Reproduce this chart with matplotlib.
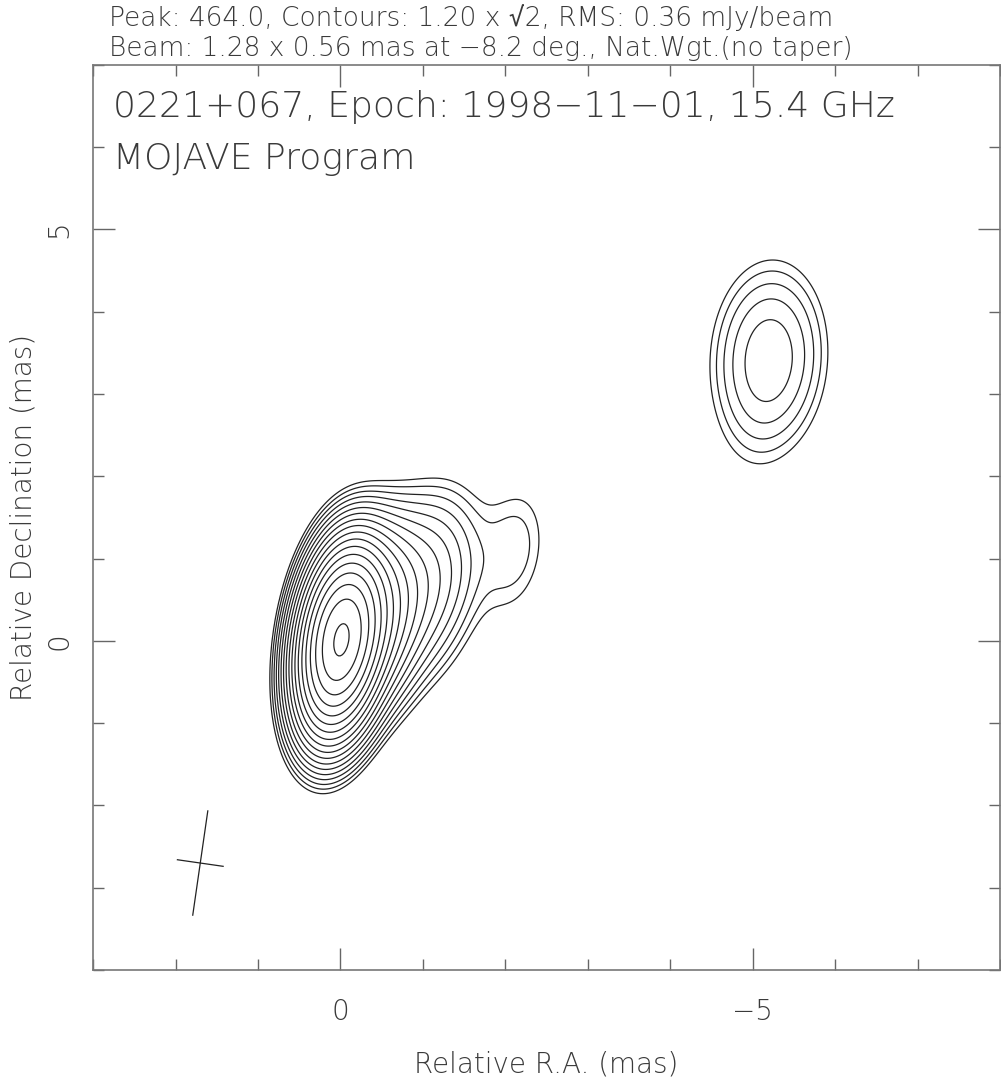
import numpy as np
import matplotlib
matplotlib.use("Agg")
import matplotlib.pyplot as plt

# source and map info
source = "0221+067"
epoch = "1998-11-01"
freq_ghz = 15.4
peak = 464.0
base_level = 1.20
rms = 0.36
beam_major = 1.28   # mas
beam_minor = 0.56   # mas
beam_pa = -8.2      # deg

# gaussian components: RA offset, Dec offset (mas), peak (mJy/beam),
# intrinsic FWHM major/minor (mas), position angle (deg)
comp_ra = [0.0, -0.40, -0.95, -1.30, -2.10, -5.20, -5.05]
comp_dec = [0.0, 0.30, 0.65, 1.05, 1.10, 3.45, 2.70]
comp_peak = [445.0, 45.0, 9.0, 1.8, 2.1, 6.0, 0.6]
comp_maj = [0.05, 0.40, 0.60, 0.50, 0.35, 0.90, 0.50]
comp_min = [0.05, 0.40, 0.60, 0.50, 0.35, 0.70, 0.50]
comp_pa = [0.0, 0.0, 0.0, 0.0, 0.0, 20.0, 0.0]

# beam cross position
beam_ra, beam_dec = 1.7, -2.7

F = 2.0 * np.sqrt(2.0 * np.log(2.0))


def gauss_cov(fmaj, fmin, pa_deg):
    pa = np.radians(pa_deg)
    u = np.array([np.sin(pa), np.cos(pa)])
    v = np.array([np.cos(pa), -np.sin(pa)])
    return (fmaj / F)**2 * np.outer(u, u) + (fmin / F)**2 * np.outer(v, v)


ra = np.linspace(3.0, -8.0, 551)
dec = np.linspace(-4.0, 7.0, 551)
RA, DEC = np.meshgrid(ra, dec)
img = np.zeros_like(RA)
bcov = gauss_cov(beam_major, beam_minor, beam_pa)
for x0, y0, p, a, b, t in zip(comp_ra, comp_dec, comp_peak, comp_maj, comp_min, comp_pa):
    ci = np.linalg.inv(bcov + gauss_cov(a, b, t))
    dx = RA - x0
    dy = DEC - y0
    q = ci[0, 0] * dx**2 + 2 * ci[0, 1] * dx * dy + ci[1, 1] * dy**2
    img += p * np.exp(-0.5 * q)

levels = base_level * np.sqrt(2.0) ** np.arange(0, 20)
levels = levels[levels < img.max()]

plt.rcParams['font.family'] = ['DejaVu Sans', 'DejaVu Sans Mono']
plt.rcParams['font.weight'] = 'light'
txt = dict(color='#3a3a3a', fontweight='light')
fig = plt.figure(figsize=(10.01, 10.79), dpi=100)
ax = fig.add_axes([0.093, 0.101, 0.906, 0.839])
ax.contour(RA, DEC, img, levels=levels, colors='#222222', linewidths=0.9)

# beam cross
pa = np.radians(beam_pa)
mx, my = np.sin(pa) * beam_major / 2, np.cos(pa) * beam_major / 2
nx, ny = np.cos(pa) * beam_minor / 2, -np.sin(pa) * beam_minor / 2
ax.plot([beam_ra - mx, beam_ra + mx], [beam_dec - my, beam_dec + my], color='#222222', lw=0.9)
ax.plot([beam_ra - nx, beam_ra + nx], [beam_dec - ny, beam_dec + ny], color='#222222', lw=0.9)

ax.set_xlim(3.0, -8.0)
ax.set_ylim(-4.0, 7.0)
ax.set_aspect('auto')
ax.set_xticks([0, -5])
ax.set_xticklabels(['0', '\u22125'], fontweight='light')
ax.set_yticks([0, 5])
ax.set_yticklabels(['0', '5'], rotation=90, va='center', fontweight='light')
ax.set_xticks(np.arange(-8, 4, 1), minor=True)
ax.set_yticks(np.arange(-4, 8, 1), minor=True)
ax.tick_params(which='both', direction='in', top=True, right=True, colors='#666666',
               labelcolor='#3a3a3a', labelsize=20, width=1)
ax.tick_params(which='major', length=16)
ax.tick_params(which='minor', length=8)
ax.tick_params(axis='x', pad=20)
ax.tick_params(axis='y', pad=14)
for s in ax.spines.values():
    s.set_color('#777777')
    s.set_linewidth(1.2)

ax.set_xlabel('Relative R.A. (mas)', fontsize=20, labelpad=18, **txt)
ax.set_ylabel('Relative Declination (mas)', fontsize=20, labelpad=6, **txt)

fig.text(0.109, 0.996, 'Peak: %.1f, Contours: %.2f x \u221a2, RMS: %.2f mJy/beam' % (peak, base_level, rms),
         fontsize=19, va='top', ha='left', **txt)
fig.text(0.109, 0.967, 'Beam: %.2f x %.2f mas at \u2212%.1f deg., Nat.Wgt.(no taper)' % (beam_major, beam_minor, -beam_pa),
         fontsize=19, va='top', ha='left', **txt)
ax.text(0.022, 0.972, '%s, Epoch: %s, %.1f GHz' % (source, epoch.replace('-', '\u2212'), freq_ghz),
        transform=ax.transAxes, fontsize=26, va='top', ha='left', **txt)
ax.text(0.022, 0.915, 'MOJAVE Program', transform=ax.transAxes, fontsize=26,
        va='top', ha='left', **txt)

fig.savefig('out.png', dpi=100)
